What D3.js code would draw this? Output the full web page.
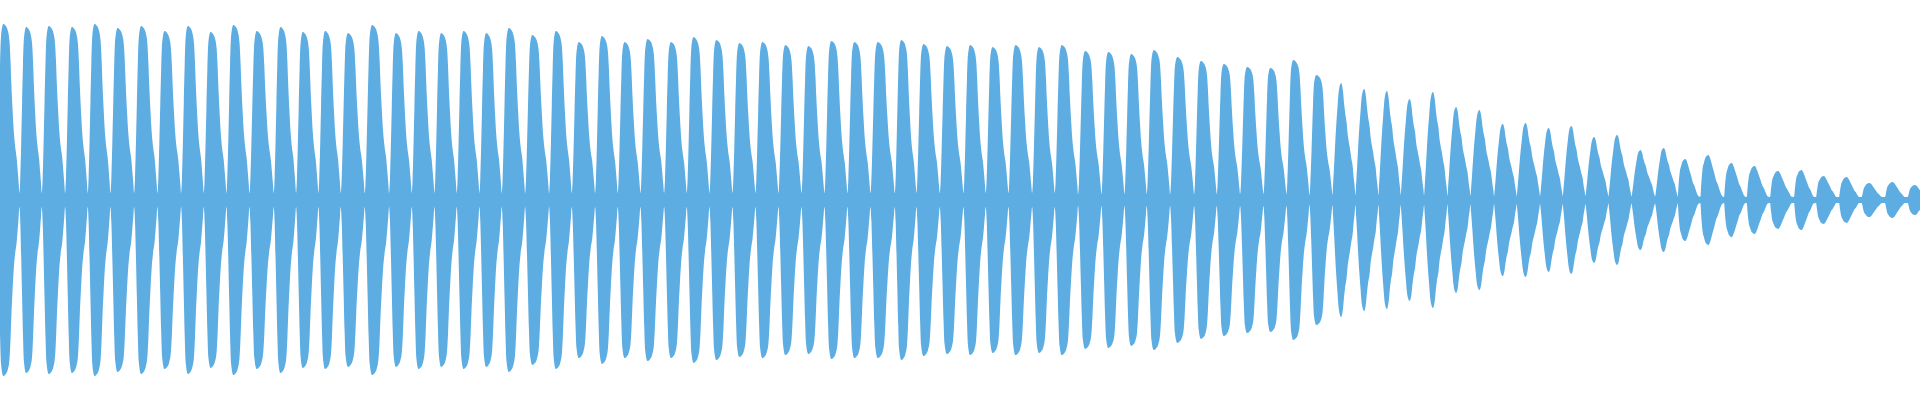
<!DOCTYPE html>
<html>
<head>
<meta charset="utf-8">
<script src="https://cdnjs.cloudflare.com/ajax/libs/d3/7.8.5/d3.min.js"></script>
<style>
  html, body { margin: 0; padding: 0; background: #fff; overflow: hidden; }
  #container { width: 1920px; height: 400px; }
</style>
</head>
<body>
<div id="container"></div>
<script>
var max_width = 1920,
    max_height = 400;

// peak time of every beat lobe (seconds)
var peakTimes = [
  0.004, 0.027, 0.049, 0.073, 0.095, 0.118, 0.142, 0.165, 0.189, 0.211, 0.234,
  0.257, 0.282, 0.303, 0.326, 0.348, 0.373, 0.397, 0.419, 0.442, 0.464,
  0.487, 0.509, 0.533, 0.557, 0.579, 0.603, 0.625, 0.648, 0.672, 0.694, 0.717,
  0.740, 0.763, 0.786, 0.809, 0.832, 0.855, 0.878, 0.903, 0.923, 0.948,
  0.971, 0.993, 1.016, 1.040, 1.062, 1.086, 1.109, 1.132, 1.154, 1.178,
  1.202, 1.224, 1.248, 1.271, 1.294, 1.317, 1.340, 1.363, 1.386, 1.408, 1.432,
  1.455, 1.478, 1.502, 1.524, 1.548, 1.570, 1.593, 1.616, 1.639, 1.663,
  1.685, 1.708, 1.732, 1.754, 1.778, 1.802, 1.823, 1.847, 1.869, 1.893, 1.915
];

// peak amplitude of every lobe (full scale = 1)
var peakAmps = [
  0.880, 0.865, 0.870, 0.865, 0.880, 0.860, 0.870, 0.845, 0.870, 0.840, 0.875,
  0.845, 0.865, 0.840, 0.845, 0.835, 0.875, 0.835, 0.845, 0.835, 0.845,
  0.835, 0.860, 0.825, 0.845, 0.790, 0.820, 0.790, 0.805, 0.790, 0.815, 0.800,
  0.785, 0.790, 0.775, 0.770, 0.795, 0.790, 0.790, 0.800, 0.780, 0.770,
  0.775, 0.765, 0.775, 0.765, 0.775, 0.745, 0.740, 0.730, 0.750, 0.715,
  0.695, 0.680, 0.665, 0.660, 0.700, 0.625, 0.585, 0.555, 0.545, 0.505, 0.540,
  0.465, 0.450, 0.380, 0.385, 0.360, 0.370, 0.315, 0.325, 0.250, 0.260,
  0.205, 0.225, 0.185, 0.170, 0.145, 0.150, 0.120, 0.115, 0.085, 0.090, 0.075
];

// residual amplitude at the node between lobes
var neckAmps = [
  0.035, 0.035, 0.035, 0.035, 0.035, 0.035, 0.035, 0.035, 0.035, 0.035, 0.035,
  0.035, 0.035, 0.035, 0.035, 0.035, 0.035, 0.035, 0.035, 0.035, 0.035,
  0.035, 0.035, 0.035, 0.035, 0.035, 0.035, 0.035, 0.035, 0.035, 0.035, 0.035,
  0.035, 0.035, 0.035, 0.035, 0.035, 0.035, 0.035, 0.035, 0.035, 0.035,
  0.035, 0.035, 0.035, 0.035, 0.035, 0.030, 0.030, 0.030, 0.030, 0.030,
  0.030, 0.030, 0.030, 0.030, 0.030, 0.025, 0.025, 0.025, 0.025, 0.025, 0.025,
  0.022, 0.022, 0.020, 0.020, 0.020, 0.020, 0.020, 0.018, 0.018, 0.018,
  0.016, 0.016, 0.015, 0.015, 0.015, 0.015, 0.015, 0.015, 0.015, 0.015, 0.015
];

// which envelope shape each lobe has (0 early, 1 middle, 2 late)
var lobeProfile = [
  0, 0, 0, 0, 0, 0, 0, 0, 0, 0, 0,
  0, 0, 0, 0, 0, 0, 0, 0, 0, 0,
  0, 0, 0, 0, 0, 0, 0, 0, 0, 0, 0,
  0, 0, 0, 0, 0, 0, 0, 0, 0, 0,
  0, 0, 0, 0, 0, 0, 0, 0, 0, 0,
  0, 0, 0, 0, 0, 0, 1, 1, 1, 1, 1,
  1, 1, 1, 1, 1, 1, 1, 1, 1, 1,
  2, 2, 2, 2, 2, 2, 2, 2, 2, 2, 2
];

// envelope of one lobe (fraction of lobe, fraction of peak)
var shapeT = [
  [0, 0.04, 0.08, 0.12, 0.16, 0.20, 0.30, 0.40, 0.50, 0.57, 0.61, 0.65, 0.70, 0.75, 0.81, 0.88, 0.93, 0.97, 1],
  [0, 0.03, 0.08, 0.12, 0.17, 0.22, 0.26, 0.31, 0.38, 0.46, 0.51, 0.55, 0.62, 0.66, 0.71, 0.77, 0.82, 0.88, 0.92, 0.97, 1],
  [0, 0.04, 0.09, 0.15, 0.22, 0.34, 0.44, 0.51, 0.59, 0.66, 0.74, 0.81, 0.88, 0.96, 1]
];
var shapeA = [
  [0, 0.13, 0.33, 0.56, 0.78, 0.93, 1.00, 0.99, 0.96, 0.90, 0.80, 0.66, 0.52, 0.40, 0.31, 0.24, 0.16, 0.09, 0],
  [0, 0.14, 0.32, 0.48, 0.65, 0.79, 0.90, 0.97, 1.00, 0.93, 0.82, 0.75, 0.66, 0.57, 0.50, 0.43, 0.36, 0.29, 0.20, 0.11, 0],
  [0, 0.39, 0.69, 0.83, 0.95, 1.00, 0.88, 0.74, 0.59, 0.44, 0.34, 0.22, 0.12, 0.03, 0]
];

var duration = 1.92;

var svg = d3.select("#container")
            .append("svg")
            .attr("width", max_width)
            .attr("height", max_height);

var x = d3.scaleLinear().domain([0, duration]).range([0, max_width]);
var y = d3.scaleLinear().domain([-1, 1]).range([max_height, 0]);

// lobe boundaries sit about a third of a period before each peak
var n = peakTimes.length;
var bounds = [peakTimes[0] - 0.33 * (peakTimes[1] - peakTimes[0])];
for (var i = 0; i < n - 1; i++) {
  bounds.push(peakTimes[i] + 0.67 * (peakTimes[i + 1] - peakTimes[i]));
}
bounds.push(peakTimes[n - 1] + 0.67 * (peakTimes[n - 1] - peakTimes[n - 2]));

var env = [];
peakTimes.forEach(function(p, i){
  var t0 = bounds[i], t1 = bounds[i + 1],
      st = shapeT[lobeProfile[i]], sa = shapeA[lobeProfile[i]];
  st.forEach(function(f, k){
    // node point is shared with the next lobe
    if (k == st.length - 1 && i < n - 1) return;
    env.push({
      t: t0 + f * (t1 - t0),
      a: Math.max(neckAmps[i], peakAmps[i] * sa[k])
    });
  });
});

var area = d3.area()
    .x(function(d){ return x(d.t); })
    .y0(function(d){ return y(-d.a); })
    .y1(function(d){ return y(d.a); })
    .curve(d3.curveMonotoneX);

svg.append("path")
   .datum(env)
   .attr("class", "wave")
   .attr("d", area)
   .style("fill", "#5dade2")
   .style("stroke", "none");
</script>
</body>
</html>
